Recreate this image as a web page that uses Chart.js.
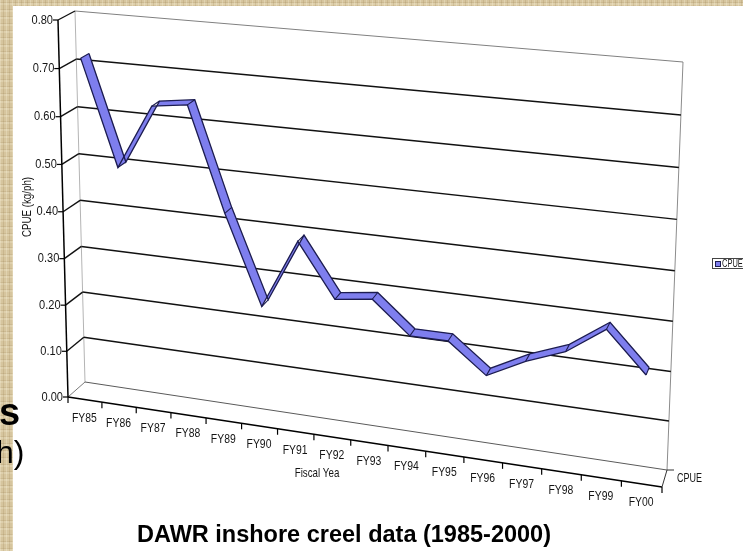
<!DOCTYPE html>
<html><head><meta charset="utf-8">
<script src="https://cdn.jsdelivr.net/npm/chart.js@4.4.1/dist/chart.umd.min.js"></script>
<style>
html,body{margin:0;padding:0;}
body{width:743px;height:551px;overflow:hidden;position:relative;
 background-color:#d6c59e;
 background-image:
  repeating-linear-gradient(90deg, rgba(255,250,230,0.25) 0 1px, rgba(0,0,0,0) 1px 3px, rgba(120,90,40,0.14) 3px 4px, rgba(0,0,0,0) 4px 6px),
  repeating-linear-gradient(0deg, rgba(255,250,230,0.20) 0 2px, rgba(110,80,30,0.10) 2px 3px, rgba(0,0,0,0) 3px 7px);}
#paper{position:absolute;left:13px;top:6px;right:0;bottom:0;background:#fff;}
#c{position:absolute;left:0;top:0;}
.slide{position:absolute;font-family:"Liberation Sans",Arial,sans-serif;color:#000;white-space:nowrap;}
</style></head><body>
<div id="paper"></div>
<canvas id="c" width="743" height="551"></canvas>
<div class="slide" style="left:0;width:688px;text-align:center;top:523px;font-size:23.5px;line-height:23.5px;font-weight:bold;">DAWR inshore creel data (1985-2000)</div>
<div class="slide" style="left:-1px;top:393px;font-size:38px;line-height:38px;font-weight:bold;">s</div>
<div class="slide" style="left:-4px;top:436px;font-size:32px;line-height:32px;">h)</div>
<script>
// ---- data ----
const categories = ['FY85','FY86','FY87','FY88','FY89','FY90','FY91','FY92','FY93','FY94','FY95','FY96','FY97','FY98','FY99','FY00'];
const cpueValues = [0.72,0.50,0.635,0.645,0.43,0.245,0.39,0.28,0.29,0.225,0.225,0.165,0.205,0.235,0.29,0.21];
const yTickValues = [0.00,0.10,0.20,0.30,0.40,0.50,0.60,0.70,0.80];
const seriesName = 'CPUE';
const yAxisTitle = 'CPUE (kg/ph)';
const xAxisTitle = 'Fiscal Yea';

// ---- 3-D frame geometry (projection of the back wall and the front plane) ----
const BACK_WALL = [[85,382],[667,470],[683,62],[75,11]];
const FRONT_PLANE = [[68,397],[662,487],[674,74],[58,20]];
const RIBBON_BACK = 0.25, RIBBON_FRONT = 0.75;
const FACE = '#7e7eee', EDGE = '#1c1c50';

function makeH(p0,p1,p2,p3){
  const [x0,y0]=p0,[x1,y1]=p1,[x2,y2]=p2,[x3,y3]=p3;
  const dx1=x1-x2, dx2=x3-x2, dx3=x0-x1+x2-x3;
  const dy1=y1-y2, dy2=y3-y2, dy3=y0-y1+y2-y3;
  const den=dx1*dy2-dx2*dy1;
  const g=(dx3*dy2-dx2*dy3)/den, h=(dx1*dy3-dx3*dy1)/den;
  const a=x1-x0+g*x1, b=x3-x0+h*x3, c=x0;
  const d=y1-y0+g*y1, e=y3-y0+h*y3, f=y0;
  return (u,v)=>{const w=g*u+h*v+1;return [(a*u+b*v+c)/w,(d*u+e*v+f)/w];};
}
const Hb=makeH(...BACK_WALL), Hf=makeH(...FRONT_PLANE);
function P(u,v,w){const b=Hb(u,v), f=Hf(u,v);return [b[0]+(f[0]-b[0])*w, b[1]+(f[1]-b[1])*w];}

const jointData=[], jointDepth=[];
categories.forEach((c,i)=>{
  jointData.push({x:c,y:cpueValues[i]},{x:c,y:cpueValues[i]},{x:c,y:null});
  jointDepth.push(RIBBON_FRONT,RIBBON_BACK,RIBBON_BACK);
});

function seg(ctx,a,b,color,width){ctx.beginPath();ctx.moveTo(a[0],a[1]);ctx.lineTo(b[0],b[1]);ctx.strokeStyle=color;ctx.lineWidth=width;ctx.stroke();}
function label(ctx,s,x,y,o){
  o=o||{};ctx.save();ctx.translate(x,y);if(o.rot)ctx.rotate(o.rot);ctx.scale(o.sx||0.75,1);
  ctx.font=(o.bold?'bold ':'')+(o.size||13)+'px "Liberation Sans", Arial, sans-serif';
  ctx.fillStyle=o.color||'#151515';ctx.textAlign=o.align||'center';ctx.textBaseline='middle';
  ctx.fillText(s,0,0);ctx.restore();
}
function drawFrame(chart){
  const ctx=chart.ctx, xs=chart.scales.x, ys=chart.scales.y;
  const vOf=t=>(ys.bottom-ys.getPixelForValue(t))/ys.height;
  const uOf=val=>(xs.getPixelForValue(val)-xs.left)/xs.width;
  ctx.save();ctx.lineCap='butt';
  seg(ctx,Hb(0,0),Hb(0,1),'#b4b4b4',1);
  seg(ctx,Hb(1,0),Hb(1,1),'#8c8c8c',1);
  const last=yTickValues.length-1;
  yTickValues.forEach((t,i)=>{
    const v=vOf(t);
    if(i===last) seg(ctx,Hb(0,v),Hb(1,v),'#808080',1);
    else if(i===0) seg(ctx,Hb(0,v),Hb(1,v),'#5a5a5a',1);
    else seg(ctx,Hb(0,v),Hb(1,v),'#111',1.5);
    seg(ctx,Hf(0,v),Hb(0,v),i===0?'#7a7a7a':'#111',i===0?1:1.4);
  });
  seg(ctx,Hf(0,0),Hf(0,1),'#000',1.5);
  seg(ctx,Hf(0,0),Hf(1,0),'#000',1.5);
  const b1=Hb(1,0), f1=Hf(1,0);
  seg(ctx,b1,f1,'#333',1);
  seg(ctx,b1,[b1[0]+7,b1[1]],'#333',1);
  yTickValues.forEach(t=>{const f=Hf(0,vOf(t));seg(ctx,[f[0]-5,f[1]],[f[0],f[1]],'#000',1.2);label(ctx,t.toFixed(2),f[0]-5,f[1],{align:'right',sx:0.85});});
  for(let k=0;k<=categories.length;k++){const p=Hf(uOf(k-0.5),0);seg(ctx,p,[p[0],p[1]+6],'#000',1.2);}
  categories.forEach((c,i)=>{const p=Hf(uOf(i),0);label(ctx,c,p[0]-0.5,p[1]+18.5,{sx:0.8});});
  label(ctx,xAxisTitle,317,473);
  label(ctx,yAxisTitle,27,207,{rot:-Math.PI/2});
  label(ctx,seriesName,f1[0]+15,f1[1]-8,{align:'left',size:12});
  ctx.restore();
}
function drawLegend(chart){
  const ctx=chart.ctx;ctx.save();
  ctx.fillStyle='#fff';ctx.fillRect(712,258,40,11);
  ctx.strokeStyle='#444';ctx.lineWidth=1;ctx.strokeRect(712.5,258.5,40,10);
  ctx.fillStyle=FACE;ctx.fillRect(715.5,261.5,5,5);ctx.strokeStyle=EDGE;ctx.strokeRect(715.5,261.5,5,5);
  label(ctx,seriesName,722,264,{align:'left',size:10});
  ctx.restore();
}
const perspective={
  id:'perspective',
  afterDatasetsUpdate(chart){
    const xs=chart.scales.x, ys=chart.scales.y;
    chart.data.datasets.forEach((ds,di)=>{
      const meta=chart.getDatasetMeta(di);
      meta.data.forEach((pt,k)=>{
        const pr=meta.controller.getParsed(k);
        if(!pr||pr.y===null||pr.y===undefined||isNaN(pr.y))return;
        const u=(xs.getPixelForValue(pr.x)-xs.left)/xs.width;
        const v=(ys.bottom-ys.getPixelForValue(pr.y))/ys.height;
        const w=Array.isArray(ds.depth)?ds.depth[k]:ds.depth;
        const p=P(u,v,w);pt.x=p[0];pt.y=p[1];
      });
      if(meta.dataset)meta.dataset._path=undefined;
    });
  },
  beforeDatasetsDraw(chart){drawFrame(chart);},
  beforeDatasetDraw(chart,args){
    if(args.index!==1)return;
    const F=chart.getDatasetMeta(1).data, B=chart.getDatasetMeta(0).data, n=F.length;
    const ctx=chart.ctx;ctx.save();ctx.fillStyle=FACE;
    [[0,1],[n-2,n-1]].forEach(([a,b])=>{ctx.beginPath();ctx.moveTo(F[a].x,F[a].y);ctx.lineTo(F[b].x,F[b].y);ctx.lineTo(B[b].x,B[b].y);ctx.lineTo(B[a].x,B[a].y);ctx.closePath();ctx.fill();});
    ctx.restore();
  },
  afterDraw(chart){drawLegend(chart);}
};
new Chart(document.getElementById('c'),{
  type:'line',
  data:{labels:categories,datasets:[
    {label:seriesName,data:cpueValues,depth:RIBBON_BACK,borderColor:EDGE,borderWidth:1.3,pointRadius:0,fill:false,tension:0},
    {label:seriesName+' front',data:cpueValues,depth:RIBBON_FRONT,borderColor:EDGE,borderWidth:1.3,backgroundColor:FACE,pointRadius:0,fill:0,tension:0},
    {label:'joints',data:jointData,depth:jointDepth,borderColor:EDGE,borderWidth:1.1,pointRadius:0,fill:false,spanGaps:false,order:-1}
  ]},
  options:{responsive:false,animation:false,events:[],
    layout:{padding:0},
    plugins:{legend:{display:false},tooltip:{enabled:false}},
    scales:{
      x:{type:'category',offset:true,display:false},
      y:{type:'linear',min:0,max:0.8,display:false,ticks:{stepSize:0.1}}
    }},
  plugins:[perspective]
});
</script>
</body></html>
